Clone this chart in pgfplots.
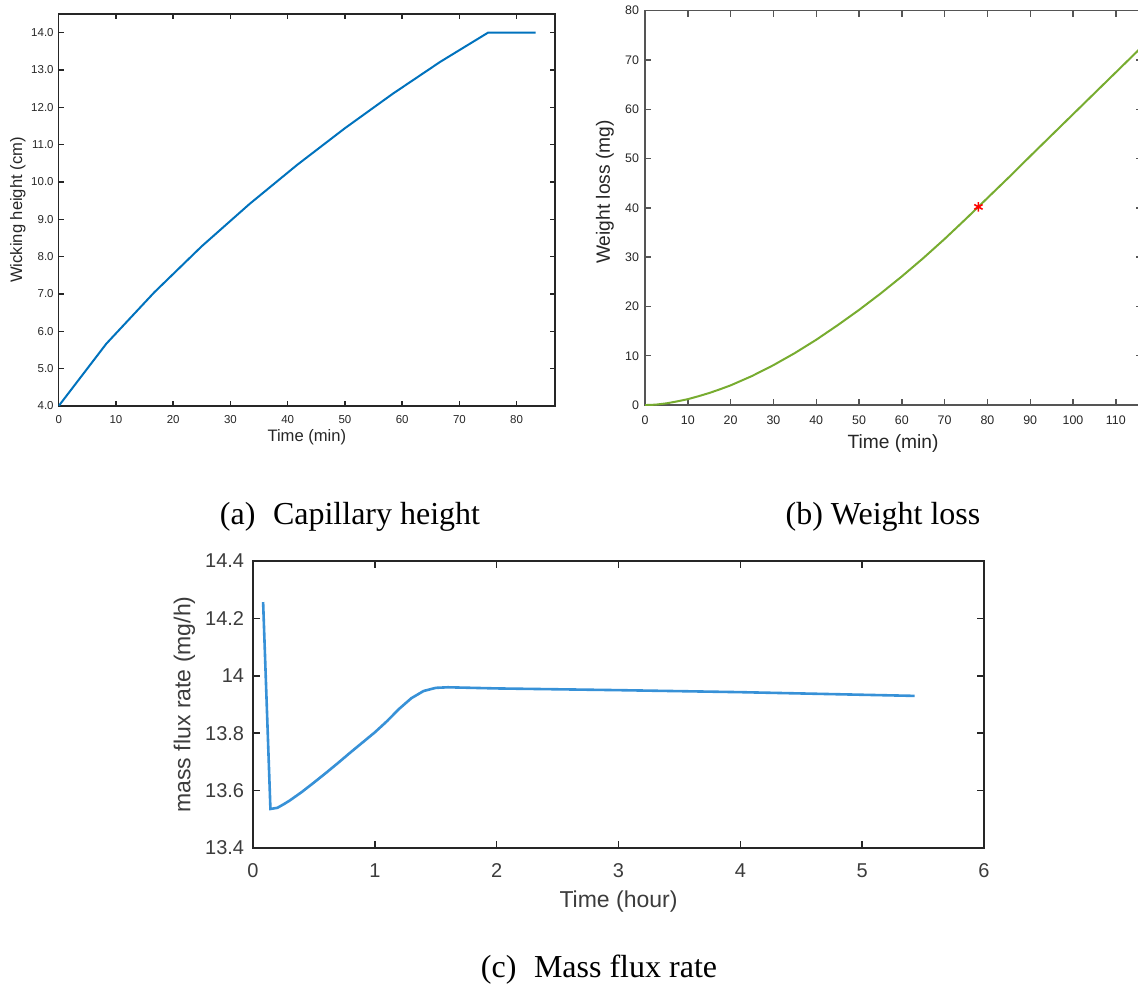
\documentclass[border=0pt]{standalone}
\usepackage{fontspec}
\setmainfont{Liberation Serif}
\newfontfamily\helv{Liberation Sans}
\usepackage{pgfplots}
\pgfplotsset{compat=1.18}
\definecolor{mblue}{RGB}{0,114,189}
\definecolor{mgreen}{RGB}{119,172,48}
\definecolor{cblue}{RGB}{55,145,215}
\definecolor{axdark}{RGB}{38,38,38}
\definecolor{axgray}{RGB}{85,85,85}
\definecolor{txgray}{RGB}{60,60,60}
\pgfplotsset{
  mstyle/.style={
    scale only axis,
    anchor=south west,
    tick align=inside,
    minor tick num=0,
    /pgf/number format/assume math mode=true,
    xtick pos=both, ytick pos=both,
  }
}
\begin{document}
\begin{tikzpicture}
\useasboundingbox (0,0) rectangle (569pt,492pt);
\clip (0,0) rectangle (569pt,492pt);
% ---------------- (a)
\begin{axis}[mstyle,
  at={(29.35pt,289pt)}, width=248.15pt, height=196pt,
  xmin=0, xmax=86.7, ymin=4, ymax=14.5,
  xtick={0,10,...,80}, ytick={4,5,...,14},
  yticklabels={4.0,5.0,6.0,7.0,8.0,9.0,10.0,11.0,12.0,13.0,14.0},
  axis line style={axdark, line width=0.7pt},
  tick style={axdark, line width=0.7pt},
  major tick length=2.5pt,
  ticklabel style={font=\helv\fontsize{5.75}{6.5}\selectfont, text=axdark},
  yticklabel style={anchor=east, inner sep=0pt, xshift=-2.35pt},
  xticklabel style={anchor=center, inner sep=0pt, yshift=-6.75pt},
  xlabel={Time (min)}, ylabel={Wicking height (cm)},
  label style={font=\helv\fontsize{8.3}{9.5}\selectfont, text=axdark},
  xlabel style={at={(axis description cs:0.5,-0.0804)}, anchor=center},
  ylabel style={at={(axis description cs:-0.0826,0.5)}, anchor=center},
]
\addplot[mblue, line width=1pt] coordinates {
(0,4.00) (8.33,5.67) (16.67,7.04) (25,8.28) (33.33,9.41) (41.67,10.46)
(50,11.44) (58.33,12.36) (66.67,13.22) (75,14.00) (83.3,14.00)
};
\end{axis}
% ---------------- (b)
\begin{axis}[mstyle,
  at={(322.5pt,289.45pt)}, width=248.25pt, height=197.2pt,
  xmin=0, xmax=116, ymin=0, ymax=80,
  xtick={0,10,...,110}, ytick={0,10,...,80},
  axis line style={axgray, line width=0.7pt},
  tick style={axgray, line width=0.7pt},
  major tick length=3pt,
  ticklabel style={font=\helv\fontsize{6.2}{7}\selectfont, text=axdark},
  yticklabel style={anchor=east, inner sep=0pt, xshift=-2.85pt},
  xticklabel style={anchor=center, inner sep=0pt, yshift=-7.5pt},
  xlabel={Time (min)}, ylabel={Weight loss (mg)},
  label style={font=\helv\fontsize{9.6}{11}\selectfont, text=axdark},
  xlabel style={at={(axis description cs:0.4995,-0.0974)}, anchor=center},
  ylabel style={at={(axis description cs:-0.0806,0.540)}, anchor=center},
]
\addplot[mgreen, line width=1pt] coordinates {
(0,0) (2.5,0.09) (5,0.35) (7.5,0.75) (10,1.2) (12.5,1.8) (15,2.45) (17.5,3.2) (20,4.0)
(25,5.9) (30,8.1) (35,10.55) (40,13.25) (45,16.2) (50,19.3) (55,22.6)
(60,26.1) (65,29.8) (70,33.7) (75,37.8) (80,42.0) (85,46.2) (90,50.5)
(95,54.75) (100,59.0) (105,63.25) (110,67.5) (116,72.6)
};
\addplot[red, only marks, mark=asterisk, mark size=2.4pt, line width=0.8pt] coordinates {(77.9,40.2)};
\end{axis}
% ---------------- (c)
\begin{axis}[mstyle,
  at={(126.5pt,68pt)}, width=365.5pt, height=143.5pt,
  xmin=0, xmax=6, ymin=13.4, ymax=14.4,
  xtick={0,1,...,6}, ytick={13.4,13.6,13.8,14,14.2,14.4},
  yticklabels={13.4,13.6,13.8,14,14.2,14.4},
  axis line style={axdark, line width=0.75pt},
  tick style={axdark, line width=0.75pt},
  major tick length=3.5pt,
  ticklabel style={font=\helv\fontsize{10}{12}\selectfont, text=txgray},
  yticklabel style={anchor=east, inner sep=0pt, xshift=-4.25pt},
  xticklabel style={anchor=center, inner sep=0pt, yshift=-11.25pt},
  xlabel={Time (hour)}, ylabel={mass flux rate (mg/h)},
  label style={font=\helv\fontsize{11.5}{13}\selectfont, text=txgray},
  xlabel style={at={(axis description cs:0.5,-0.188)}, anchor=center},
  ylabel style={at={(axis description cs:-0.0937,0.5)}, anchor=center},
]
\addplot[cblue, line width=1.3pt] coordinates {
(0.083,14.257) (0.143,13.536) (0.2,13.540) (0.25,13.552) (0.3,13.565)
(0.4,13.595) (0.5,13.628) (0.6,13.662) (0.7,13.697) (0.8,13.733) (0.9,13.768)
(1.0,13.803) (1.1,13.842) (1.2,13.885) (1.3,13.922) (1.4,13.947) (1.5,13.958)
(1.6,13.960) (2.0,13.956) (3.0,13.950) (4.0,13.943) (5.43,13.930)
};
\end{axis}
% ---------------- captions
\node[font=\fontsize{16}{19}\selectfont, anchor=base] at (175pt,229.5pt) {(a)\hspace{0.3em} Capillary height};
\node[font=\fontsize{16}{19}\selectfont, anchor=base] at (441.5pt,229.5pt) {(b) Weight loss};
\node[font=\fontsize{16}{19}\selectfont, anchor=base] at (299.5pt,3.25pt) {(c)\hspace{0.3em} Mass flux rate};
\end{tikzpicture}
\end{document}
